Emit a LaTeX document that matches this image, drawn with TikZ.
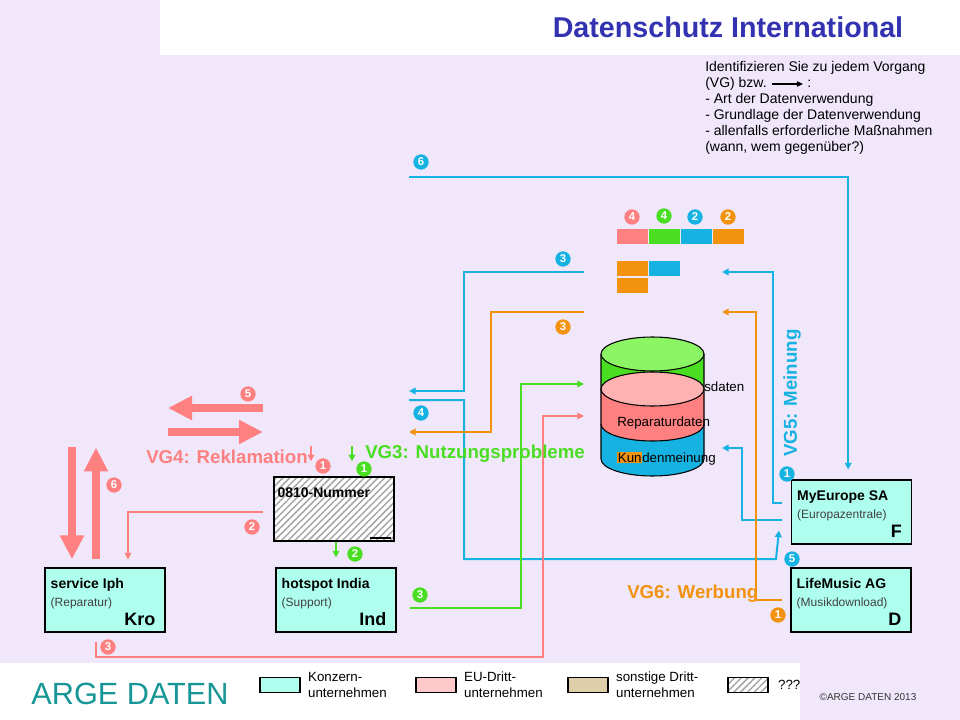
\documentclass[tikz,border=0pt]{standalone}
\usepackage{fontspec}
\setmainfont{Liberation Sans}
\usepackage{tikz}
\usetikzlibrary{
	arrows.meta,
	patterns.meta
}
\definecolor{lavendel}{RGB}{240,231,250}
\definecolor{titelblau}{RGB}{51,51,178}
\definecolor{argeteal}{RGB}{22,150,150}
\definecolor{konzern}{RGB}{175,255,238}
\definecolor{eudritt}{RGB}{255,201,201}
\definecolor{sonstige}{RGB}{223,206,170}
\definecolor{vgcyan}{RGB}{22,178,226}
\definecolor{vgorange}{RGB}{242,146,14}
\definecolor{vggruen}{RGB}{74,222,34}
\definecolor{vgrot}{RGB}{255,128,128}
\definecolor{hellgruen}{RGB}{140,245,100}
\definecolor{hellrot}{RGB}{255,178,178}
\newcommand\schrift[2]{\fontsize{#1}{#2}\selectfont}
\tikzset{
	firm box/.style={
		draw=black,
		line width=0.8pt,
		fill=konzern,
		minimum width=90pt,
		minimum height=48pt,
		inner sep=0pt
	},
	firm name/.style={anchor=base west, inner sep=0pt, font=\bfseries\schrift{10.5}{12}},
	firm note/.style={anchor=base west, inner sep=0pt, font=\schrift{9}{11}, text=black!75},
	firm land/.style={anchor=base east, inner sep=0pt, font=\bfseries\schrift{13.5}{15}},
	hatched/.style={
		draw=black,
		line width=0.8pt,
		preaction={fill=white},
		pattern={Lines[angle=45,distance=3.6pt,line width=1.1pt]},
		pattern color=black!35
	},
	circled number/.style={
		circle,
		fill=#1,
		text=white,
		inner sep=0pt,
		minimum size=11.5pt,
		font=\bfseries\schrift{8.5}{8.5}
	},
	data line/.style={draw=#1, line width=1.5pt, -{Triangle[length=5pt,width=5pt]}},
	big arrow/.style={draw=vgrot, line width=6pt, -{Triangle[length=18pt,width=17pt]}},
	vg label/.style={anchor=base west, inner sep=0pt, font=\bfseries\schrift{14}{16}, text=#1},
	db text/.style={anchor=base west, inner sep=0pt, font=\schrift{10}{12}},
	legend box/.style={draw=black, line width=0.8pt, minimum width=30pt, minimum height=11.5pt, inner sep=0pt},
	legend text/.style={anchor=west, inner sep=0pt, align=left, font=\schrift{10}{12}},
	hint/.style={anchor=base west, inner sep=0pt, font=\schrift{10.5}{12}}
}
\begin{document}
\begin{tikzpicture}[ %%%%%%%% DATENSCHUTZ INTERNATIONAL
		x=0.75pt,
		y=-0.75pt
	]
	\useasboundingbox (0,0) rectangle (960,720);
	\fill[lavendel] (0,0) rectangle (960,720);
	\fill[white] (160,0) rectangle (960,55);
	\fill[white] (0,663) rectangle (800,720);

	\node[font=\bfseries\schrift{21.5}{24}, text=titelblau] (titel) at (728,27) {Datenschutz International};

	\node[hint] (hint1) at (705,72) {Identifizieren Sie zu jedem Vorgang};
	\node[hint] (hint2) at (705,88) {(VG) bzw.};
	\node[hint] (hint2b) at ([xshift=30pt]hint2.base east) {:};
	\draw[line width=0.8pt, -{Triangle[length=4.5pt,width=4pt]}] ([xshift=4pt,yshift=3pt]hint2.base east) -- ([xshift=-3pt,yshift=3pt]hint2b.base west);
	\foreach \t [count=\i from 3] in {- Art der Datenverwendung, - Grundlage der Datenverwendung, - allenfalls erforderliche Maßnahmen, {(wann, wem gegenüber?)}}
		\node[hint] (hint\i) at (705,{56+16*\i}) {\t};

	% Unternehmen
	\foreach \n/\x/\y/\fname/\fnote/\fland in {
			ip/105/600/service Iph/(Reparatur)/Kro,
			hi/336/600/hotspot India/(Support)/Ind,
			me/851.5/512/MyEurope SA/(Europazentrale)/F,
			lm/851/600/LifeMusic AG/(Musikdownload)/D}
	{
		\node[firm box] (\n) at (\x,\y) {};
		\node[firm name] (\n-name) at ([xshift=4.5pt,yshift=-15.75pt]\n.north west) {\fname};
		\node[firm note] (\n-note) at ([xshift=4.5pt,yshift=-29.25pt]\n.north west) {\fnote};
		\node[firm land] (\n-land) at ([xshift=-7.5pt,yshift=5.25pt]\n.south east) {\fland};
	}
	\node[hatched, minimum width=90pt, minimum height=48pt, inner sep=0pt] (nr) at (334,509) {};
	\node[firm name] (nr-name) at ([xshift=3pt,yshift=-15.75pt]nr.north west) {0810-Nummer};
	\draw[line width=1.5pt] ([xshift=-18.75pt,yshift=2.5pt]nr.south east) -- ([xshift=-3pt,yshift=2.5pt]nr.south east);

	% Datenbank
	\filldraw[fill=vgcyan, draw=black, line width=0.8pt] (601,424) -- (601,459) arc[start angle=180, end angle=0, x radius=51.5, y radius=17] -- (704,424);
	\filldraw[fill=vggruen, draw=black, line width=0.8pt] (601,354) -- (601,389) arc[start angle=180, end angle=0, x radius=51.5, y radius=17] -- (704,354);
	\filldraw[fill=hellgruen, draw=black, line width=0.8pt] (652.5,354) ellipse [x radius=51.5, y radius=17];
	\filldraw[fill=vgrot, draw=black, line width=0.8pt] (601,389) -- (601,424) arc[start angle=180, end angle=0, x radius=51.5, y radius=17] -- (704,389);
	\filldraw[fill=hellrot, draw=black, line width=0.8pt] (652.5,389) ellipse [x radius=51.5, y radius=17];
	\node[db text] (nutzung) at (704,391) {sdaten};
	\node[db text] (reparatur) at (617,426) {Reparaturdaten};
	\node[db text] (meinung) at (617,462) {{\setlength{\fboxsep}{0.5pt}\colorbox{vgorange}{Kun}}denmeinung};

	\foreach \x/\y/\c in {617/229/vgrot, 649/229/vggruen, 681/229/vgcyan, 713/229/vgorange, 617/261/vgorange, 649/261/vgcyan, 617/278/vgorange}
		\fill[\c] (\x,\y) rectangle ++(31,15);

	\foreach \n/\x/\y/\c/\z in {
			c6/421/162/vgcyan/6, c3/563/259/vgcyan/3, o3/563/327/vgorange/3, c4/421/413/vgcyan/4,
			r5/248/394/vgrot/5, r1/323/466/vgrot/1, g1/364/469/vggruen/1, r6/114/485/vgrot/6,
			r2/252/527/vgrot/2, g2/355/554/vggruen/2, g3/420/595/vggruen/3, r3/108/647/vgrot/3,
			c1/787/474/vgcyan/1, c5/792/559/vgcyan/5, o1/778/615/vgorange/1,
			sr4/632/217/vgrot/4, sg4/664/216/vggruen/4, sc2/695/217/vgcyan/2, so2/728/217/vgorange/2}
		\node[circled number=\c] (num-\n) at (\x,\y) {\z};

	% Datenflüsse
	\coordinate (c6-start) at (409,177);
	\coordinate (c3-start) at (584,272);
	\coordinate (c3-end) at (409,391);
	\coordinate (c4-start) at (409,400);
	\coordinate (c5-knick) at (776,559);
	\coordinate (c1-end) at (722,272);
	\coordinate (km-end) at (722,448);
	\coordinate (o3-start) at (584,312);
	\coordinate (o3-end) at (409,432);
	\coordinate (o1-end) at (722,312);
	\coordinate (g3-end) at (584,384);
	\coordinate (r3-end) at (584,416);
	\draw[data line=vgcyan] (c6-start) -| ([xshift=-2.5pt,yshift=7.5pt]me.north);
	\draw[data line=vgcyan] (c3-start) -- ++(-120,0) |- (c3-end);
	\draw[data line=vgcyan] (c4-start) -- ++(55,0) |- (c5-knick) -- ([xshift=-9pt,yshift=10.5pt]me.south west);
	\draw[data line=vgcyan] ([xshift=-6.75pt,yshift=6.75pt]me.west) -- ++(-9,0) |- (c1-end);
	\draw[data line=vgcyan] ([xshift=-6.75pt,yshift=-6pt]me.west) -- ++(-40,0) |- (km-end);
	\draw[data line=vgorange] (o3-start) -- ++(-93,0) |- (o3-end);
	\draw[data line=vgorange] ([xshift=-6pt]lm.west) -- ++(-26,0) |- (o1-end);
	\draw[data line=vggruen] ([xshift=9.75pt,yshift=-6pt]hi.east) -- ++(111,0) |- (g3-end);
	\draw[data line=vggruen] ([xshift=13.5pt,yshift=22.5pt]nr.north) -- ++(0,15);
	\draw[data line=vggruen] ([yshift=18.75pt]hi.north) -- ([yshift=7.5pt]hi.north);
	\draw[data line=vgrot] ([xshift=-6.75pt,yshift=-6.75pt]ip.south) -- ++(0,15) -- ++(447,0) |- (r3-end);
	\draw[data line=vgrot] ([xshift=-7.5pt,yshift=-2.25pt]nr.west) -| ([xshift=17.25pt,yshift=6pt]ip.north);
	\draw[data line=vgrot] ([xshift=-17.25pt,yshift=22.5pt]nr.north) -- ++(0,15);

	\coordinate (reklam-a) at (263,408);
	\coordinate (reklam-b) at (168,408);
	\coordinate (antwort-a) at (168,432);
	\coordinate (antwort-b) at (263,432);
	\draw[big arrow] (reklam-a) -- (reklam-b);
	\draw[big arrow] (antwort-a) -- (antwort-b);
	\draw[big arrow] ([xshift=-24.75pt,yshift=90pt]ip.north) -- ([xshift=-24.75pt,yshift=6pt]ip.north);
	\draw[big arrow] ([xshift=-6.75pt,yshift=6pt]ip.north) -- ([xshift=-6.75pt,yshift=90pt]ip.north);

	\node[vg label=vgrot] (vg4) at (146,463) {VG4: Reklamation};
	\node[vg label=vggruen] (vg3) at (365,458) {VG3: Nutzungsprobleme};
	\node[vg label=vgorange] (vg6) at (627,598) {VG6: Werbung};
	\node[vg label=vgcyan, anchor=center, rotate=90] (vg5) at (792,393) {VG5: Meinung};

	% Legende
	\foreach \n/\x/\c/\t in {konzern/280/konzern/Konzern-\\unternehmen, eu/436/eudritt/EU-Dritt-\\unternehmen, sonst/588/sonstige/sonstige Dritt-\\unternehmen}
	{
		\node[legend box, fill=\c] (leg-\n) at (\x,685) {};
		\node[legend text] (leg-\n-text) at ([xshift=5.5pt]leg-\n.east) {\t};
	}
	\node[hatched, legend box] (leg-frage) at (748,685) {};
	\node[legend text] (leg-frage-text) at ([xshift=7pt]leg-frage.east) {???};
	\node[font=\schrift{23}{26}, text=argeteal] (arge) at (130,694) {ARGE DATEN};
	\node[font=\schrift{7.5}{9}, text=black!80] (copy) at (868,697) {©ARGE DATEN 2013};
\end{tikzpicture}
\end{document}
